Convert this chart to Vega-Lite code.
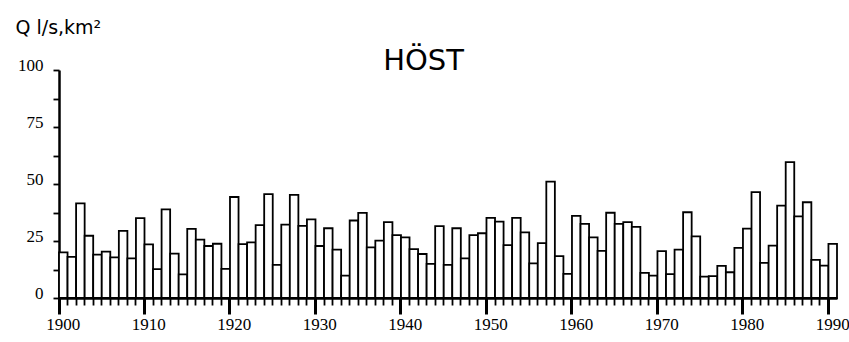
{
  "$schema": "https://vega.github.io/schema/vega-lite/v6.json",
  "width": 778,
  "height": 228,
  "autosize": "none",
  "padding": {"left": 59, "top": 70, "right": 12, "bottom": 44},
  "background": "white",
  "data": {"values": [
    {"year": 1900, "q": 20}, {"year": 1901, "q": 18}, {"year": 1902, "q": 41.5}, {"year": 1903, "q": 27.3}, {"year": 1904, "q": 19},
    {"year": 1905, "q": 20.3}, {"year": 1906, "q": 17.8}, {"year": 1907, "q": 29.4}, {"year": 1908, "q": 17.4}, {"year": 1909, "q": 35},
    {"year": 1910, "q": 23.5}, {"year": 1911, "q": 12.7}, {"year": 1912, "q": 38.9}, {"year": 1913, "q": 19.5}, {"year": 1914, "q": 10.4},
    {"year": 1915, "q": 30.3}, {"year": 1916, "q": 25.6}, {"year": 1917, "q": 22.8}, {"year": 1918, "q": 23.8}, {"year": 1919, "q": 12.8},
    {"year": 1920, "q": 44.3}, {"year": 1921, "q": 23.6}, {"year": 1922, "q": 24.4}, {"year": 1923, "q": 32}, {"year": 1924, "q": 45.6},
    {"year": 1925, "q": 14.5}, {"year": 1926, "q": 32.2}, {"year": 1927, "q": 45.2}, {"year": 1928, "q": 31.6}, {"year": 1929, "q": 34.5},
    {"year": 1930, "q": 22.8}, {"year": 1931, "q": 30.6}, {"year": 1932, "q": 21.2}, {"year": 1933, "q": 9.8}, {"year": 1934, "q": 34},
    {"year": 1935, "q": 37.3}, {"year": 1936, "q": 22.2}, {"year": 1937, "q": 25.2}, {"year": 1938, "q": 33.3}, {"year": 1939, "q": 27.6},
    {"year": 1940, "q": 26.6}, {"year": 1941, "q": 21.4}, {"year": 1942, "q": 19.3}, {"year": 1943, "q": 15}, {"year": 1944, "q": 31.5},
    {"year": 1945, "q": 14.5}, {"year": 1946, "q": 30.6}, {"year": 1947, "q": 17.4}, {"year": 1948, "q": 27.6}, {"year": 1949, "q": 28.4},
    {"year": 1950, "q": 35.1}, {"year": 1951, "q": 33.5}, {"year": 1952, "q": 23.2}, {"year": 1953, "q": 35.1}, {"year": 1954, "q": 28.8},
    {"year": 1955, "q": 15.2}, {"year": 1956, "q": 24.1}, {"year": 1957, "q": 51}, {"year": 1958, "q": 18.4}, {"year": 1959, "q": 10.6},
    {"year": 1960, "q": 36}, {"year": 1961, "q": 32.5}, {"year": 1962, "q": 26.6}, {"year": 1963, "q": 20.7}, {"year": 1964, "q": 37.4},
    {"year": 1965, "q": 32.5}, {"year": 1966, "q": 33.3}, {"year": 1967, "q": 31.2}, {"year": 1968, "q": 11}, {"year": 1969, "q": 9.8},
    {"year": 1970, "q": 20.6}, {"year": 1971, "q": 10.5}, {"year": 1972, "q": 21.2}, {"year": 1973, "q": 37.6}, {"year": 1974, "q": 27},
    {"year": 1975, "q": 9.4}, {"year": 1976, "q": 9.6}, {"year": 1977, "q": 14.1}, {"year": 1978, "q": 11.3}, {"year": 1979, "q": 22},
    {"year": 1980, "q": 30.4}, {"year": 1981, "q": 46.4}, {"year": 1982, "q": 15.4}, {"year": 1983, "q": 23}, {"year": 1984, "q": 40.5},
    {"year": 1985, "q": 59.6}, {"year": 1986, "q": 35.8}, {"year": 1987, "q": 42}, {"year": 1988, "q": 16.7}, {"year": 1989, "q": 14.2},
    {"year": 1990, "q": 23.7}
  ]},
  "encoding": {
    "y": {
      "field": "q", "type": "quantitative",
      "scale": {"domain": [0, 100], "nice": false},
      "axis": {
        "title": "Q l/s,km²",
        "titleFont": "DejaVu Sans",
        "titleFontSize": 19,
        "titleFontWeight": "normal",
        "titleColor": "black",
        "titleAngle": 0,
        "titleAlign": "left",
        "titleBaseline": "alphabetic",
        "titleX": -44,
        "titleY": -37,
        "values": [0, 12.5, 25, 37.5, 50, 62.5, 75, 87.5, 100],
        "labelExpr": "datum.value % 25 === 0 ? datum.label : ''",
        "labelFont": "Liberation Serif",
        "labelFontSize": 17,
        "labelColor": "black",
        "labelPadding": 10,
        "labelOffset": -5,
        "grid": false,
        "domainColor": "black",
        "domainWidth": 2.5,
        "tickColor": "black",
        "tickSize": 6,
        "tickWidth": 1.8
      }
    }
  },
  "layer": [
    {
      "mark": {"type": "bar", "fill": "white", "stroke": "black", "strokeWidth": 1.8},
      "encoding": {
        "x": {
          "field": "year", "type": "ordinal",
          "scale": {"paddingInner": 0, "paddingOuter": 0},
          "axis": {
            "title": null,
            "orient": "bottom",
            "labelAngle": 0,
            "bandPosition": 0,
            "labelExpr": "datum.value % 10 === 0 ? datum.label : ''",
            "labelFont": "Liberation Serif",
            "labelFontSize": 17,
            "labelColor": "black",
            "labelPadding": 2,
            "labelOverlap": false,
            "domainColor": "black",
            "domainWidth": 2.5,
            "tickColor": "black",
            "tickSize": {"condition": {"test": "datum.value % 10 === 0", "value": 16}, "value": 7},
            "tickWidth": {"condition": {"test": "datum.value % 10 === 0", "value": 3}, "value": 1.8}
          }
        }
      }
    },
    {
      "mark": {"type": "bar", "opacity": 0},
      "encoding": {
        "x": {
          "field": "year", "type": "ordinal",
          "axis": {
            "orient": "top",
            "title": "HÖST",
            "titleFont": "DejaVu Sans",
            "titleFontSize": 29,
            "titleFontWeight": "normal",
            "titleColor": "black",
            "titleAlign": "center",
            "titleBaseline": "alphabetic",
            "titleX": 364,
            "titleY": -1,
            "domain": false,
            "ticks": false,
            "labels": false
          }
        }
      }
    }
  ],
  "resolve": {"axis": {"x": "independent"}},
  "config": {"view": {"stroke": null}}
}
